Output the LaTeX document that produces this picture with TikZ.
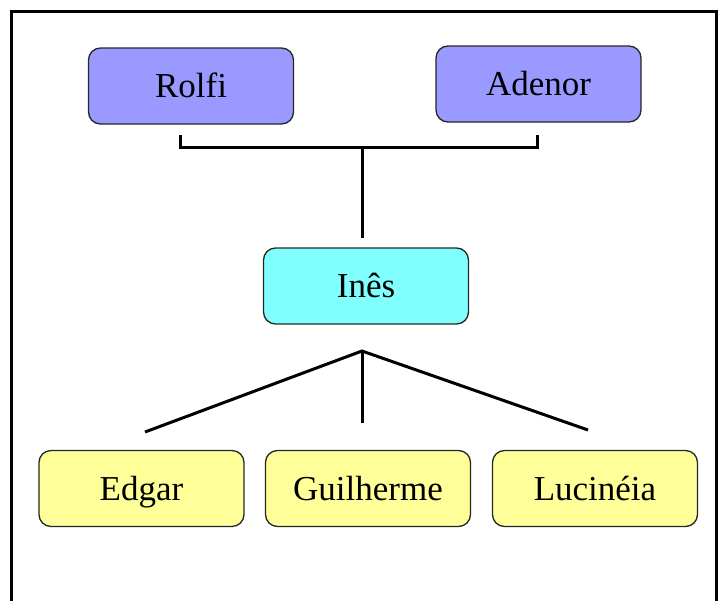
\documentclass[tikz,border=0pt]{standalone}
\usepackage{fontspec}
\setmainfont{Liberation Serif}
\begin{document}
\begin{tikzpicture}[x=1pt,y=-1pt,
  person/.style={draw=black!85, line width=1.3pt, rounded corners=12pt,
    minimum width=205pt, minimum height=76pt, inner sep=0pt,
    text height=23pt, text depth=0pt, font=\fontsize{35}{40}\selectfont},
  parent/.style={person, fill=parentblue},
  mid/.style={person, fill=midcyan},
  child/.style={person, fill=childyellow},
  link/.style={line width=3pt, black}]
\definecolor{parentblue}{HTML}{9999FF}
\definecolor{midcyan}{HTML}{80FFFF}
\definecolor{childyellow}{HTML}{FFFF99}
\useasboundingbox (0,0) rectangle (720,600);
\begin{scope}
\clip (0,0) rectangle (720,600);
\draw[line width=3pt] (11.5,11.5) rectangle (716.5,620);
\end{scope}
\node[parent] (rolfi) at (191,86) {Rolfi};
\node[parent] (adenor) at (538.5,84) {Adenor};
\node[mid] (ines) at (366,286) {Inês};
\node[child] (edgar) at (141.5,488.5) {Edgar};
\node[child] (guilherme) at (368,488.5) {Guilherme};
\node[child] (lucineia) at (595,488.5) {Lucinéia};
% bracket above Ines
\coordinate (bl) at (180,135);
\coordinate (br) at (537,135);
\coordinate (bm) at (362,147);
\coordinate (it) at (362,238);
\draw[link] (bl) -- (180,147) -- (537,147) -- (br);
\draw[link] (bm) -- (it);
% fan below Ines
\coordinate (j) at (362,351);
\coordinate (el) at (145,432);
\coordinate (gm) at (362,423);
\coordinate (lr) at (588,430);
\draw[link] (el) -- (j) -- (lr);
\draw[link] (j) -- (gm);
\end{tikzpicture}
\end{document}
